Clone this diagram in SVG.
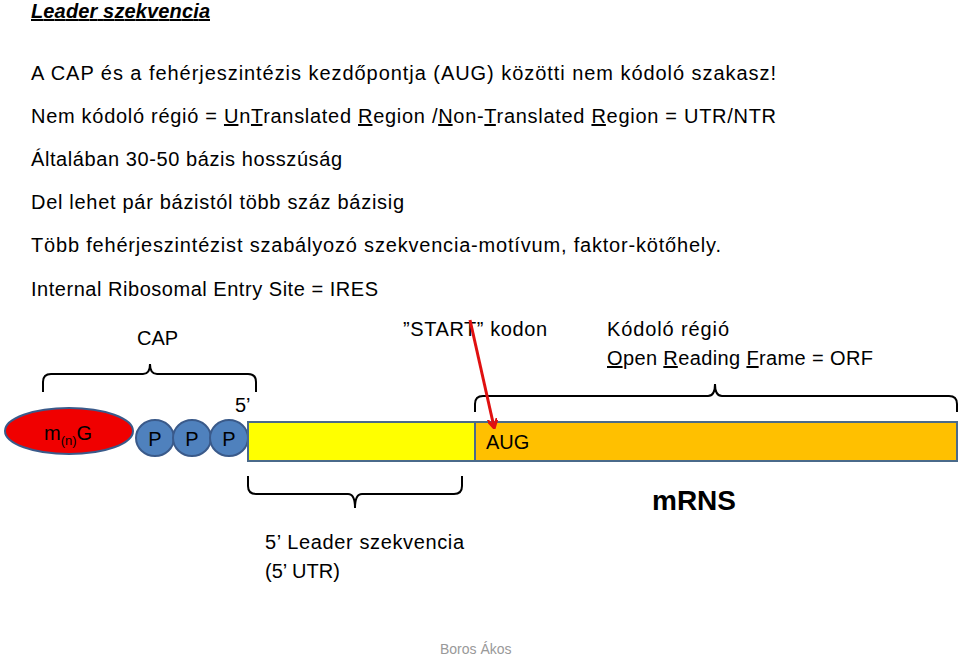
<svg xmlns="http://www.w3.org/2000/svg" width="960" height="657" viewBox="0 0 960 657">
<style>
text{font-family:"Liberation Sans",Arial,sans-serif;fill:#000}
.t{font-size:20px}
.br{fill:none;stroke:#000;stroke-width:2}
</style>
<defs><marker id="ar" markerWidth="10" markerHeight="10" refX="8" refY="5" orient="auto" markerUnits="userSpaceOnUse"><path d="M0,0 L9,5 L0,10" fill="none" stroke="#e01010" stroke-width="3"/></marker></defs>
<rect width="960" height="657" fill="#fff"/>
<text x="31" y="18" class="t" font-weight="bold" font-style="italic" text-decoration="underline" textLength="179">Leader szekvencia</text>
<text x="31" y="80" class="t" textLength="745">A CAP és a fehérjeszintézis kezdőpontja (AUG) közötti nem kódoló szakasz!</text>
<text x="31" y="123" class="t" textLength="745">Nem kódoló régió = <tspan text-decoration="underline">U</tspan>n<tspan text-decoration="underline">T</tspan>ranslated <tspan text-decoration="underline">R</tspan>egion /<tspan text-decoration="underline">N</tspan>on-<tspan text-decoration="underline">T</tspan>ranslated <tspan text-decoration="underline">R</tspan>egion = UTR/NTR</text>
<text x="31" y="166" class="t" textLength="311">Általában 30-50 bázis hosszúság</text>
<text x="31" y="209" class="t" textLength="373">Del lehet pár bázistól több száz bázisig</text>
<text x="31" y="252" class="t" textLength="690">Több fehérjeszintézist szabályozó szekvencia-motívum, faktor-kötőhely.</text>
<text x="31" y="296" class="t" textLength="347">Internal Ribosomal Entry Site = IRES</text>
<g id="labels">
<text x="137" y="345" class="t">CAP</text>
<text x="403" y="336" class="t" textLength="144">”START” kodon</text>
<text x="607" y="336" class="t" textLength="122">Kódoló régió</text>
<text x="607" y="365" class="t" textLength="266"><tspan text-decoration="underline">O</tspan>pen <tspan text-decoration="underline">R</tspan>eading <tspan text-decoration="underline">F</tspan>rame = ORF</text>
<text x="235" y="412" class="t">5’</text>
<text x="265" y="549" class="t" textLength="199">5’ Leader szekvencia</text>
<text x="265" y="578" class="t">(5’ UTR)</text>
<text x="652" y="510" font-size="28" font-weight="bold">mRNS</text>
<text x="440" y="654" font-size="14" style="fill:#999">Boros Ákos</text>
</g>
<g id="cap"><ellipse cx="69" cy="431" rx="64" ry="23" fill="#f00000" stroke="#3a5a8a" stroke-width="2"/>
<text x="44" y="440" class="t">m<tspan font-size="13" dy="5">(n)</tspan><tspan dy="-5">G</tspan></text></g>
<g id="p1"><ellipse cx="155" cy="438" rx="19" ry="18" fill="#4f81bd" stroke="#3a5a8a" stroke-width="2"/><text x="155" y="446" class="t" text-anchor="middle">P</text></g>
<g id="p2"><ellipse cx="192" cy="438" rx="19" ry="18" fill="#4f81bd" stroke="#3a5a8a" stroke-width="2"/><text x="192" y="446" class="t" text-anchor="middle">P</text></g>
<g id="p3"><ellipse cx="229" cy="438" rx="19" ry="18" fill="#4f81bd" stroke="#3a5a8a" stroke-width="2"/><text x="229" y="446" class="t" text-anchor="middle">P</text></g>
<g id="utr"><rect x="248" y="422" width="227" height="39" fill="#ffff00" stroke="#4a6a8a" stroke-width="2"/></g>
<g id="orf"><rect x="475" y="422" width="482" height="39" fill="#ffc000" stroke="#4a6a8a" stroke-width="2"/><text x="486" y="449" class="t">AUG</text></g>
<g id="connectors">
<path class="br" d="M43,392 V382 Q43,374 51,374 H143 Q150,374 150,364 Q150,374 157,374 H248 Q256,374 256,382 V392"/>
<path class="br" d="M475,412 V404 Q475,396 483,396 H708 Q715,396 715,384 Q715,396 722,396 H949 Q957,396 957,404 V412"/>
<path class="br" d="M248,476 V486 Q248,494 256,494 H348 Q355,494 355,508 Q355,494 362,494 H454 Q462,494 462,486 V476"/>
<line x1="470" y1="320" x2="494" y2="427" stroke="#e01010" stroke-width="3" marker-end="url(#ar)"/>
</g>
</svg>
